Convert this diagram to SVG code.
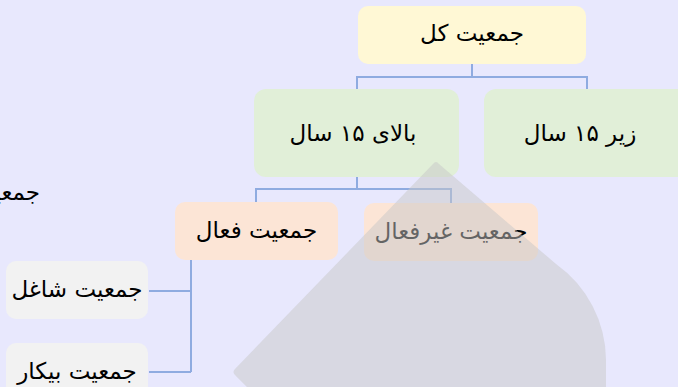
<svg xmlns="http://www.w3.org/2000/svg" width="678" height="387" viewBox="0 0 678 387">
<style>
.t{font-family:"DejaVu Sans","Noto Sans",sans-serif;font-size:23px;fill:#000;text-anchor:middle;dominant-baseline:central}
.c{fill:none;stroke:#8fabe0;stroke-width:2}
.y{fill:#fff8d5}.g{fill:#e1efd8}.o{fill:#fce5d6}.n{fill:#f2f2f2}
</style>
<rect width="678" height="387" fill="#e8e8fd"/>
<g id="connectors">
<path class="c" d="M472,64V77M357,89V77H587V89"/>
<path class="c" d="M357,177V189M256,202V189H451V203"/>
<path class="c" d="M191,260V372M149,291H191M149,372H191"/>
</g>
<g id="n-total"><rect class="y" x="358" y="6" width="228" height="58" rx="10"/><text class="t" x="472" y="33">جمعیت کل</text></g>
<g id="n-over15"><rect class="g" x="254" y="89" width="205" height="88" rx="12"/><text class="t" x="353" y="133">بالای ۱۵ سال</text></g>
<g id="n-under15"><rect class="g" x="484" y="89" width="210" height="88" rx="12"/><text class="t" x="580" y="133">زیر ۱۵ سال</text></g>
<g id="n-active"><rect class="o" x="175" y="202" width="163" height="58" rx="10"/><text class="t" x="256.5" y="230">جمعیت فعال</text></g>
<g id="n-inactive"><rect class="o" x="364" y="203" width="174" height="58" rx="10"/><text class="t" x="451" y="231">جمعیت غیرفعال</text></g>
<g id="n-employed"><rect class="n" x="6" y="261" width="142" height="58" rx="10"/><text class="t" x="77" y="289">جمعیت شاغل</text></g>
<g id="n-unemployed"><rect class="n" x="6" y="343" width="142" height="58" rx="10"/><text class="t" x="77" y="371">جمعیت بیکار</text></g>
<g id="n-cut"><text class="t" x="40" y="192" style="text-anchor:end">جمعیت</text></g>
<g id="overlay"><path d="M433,164Q436,160 439,164L556,264A119,119 0 0 1 606,360L606,420L280,420L235,375Q232,372 235,369Z" fill="#c8c8c8" fill-opacity="0.5"/></g>
</svg>
